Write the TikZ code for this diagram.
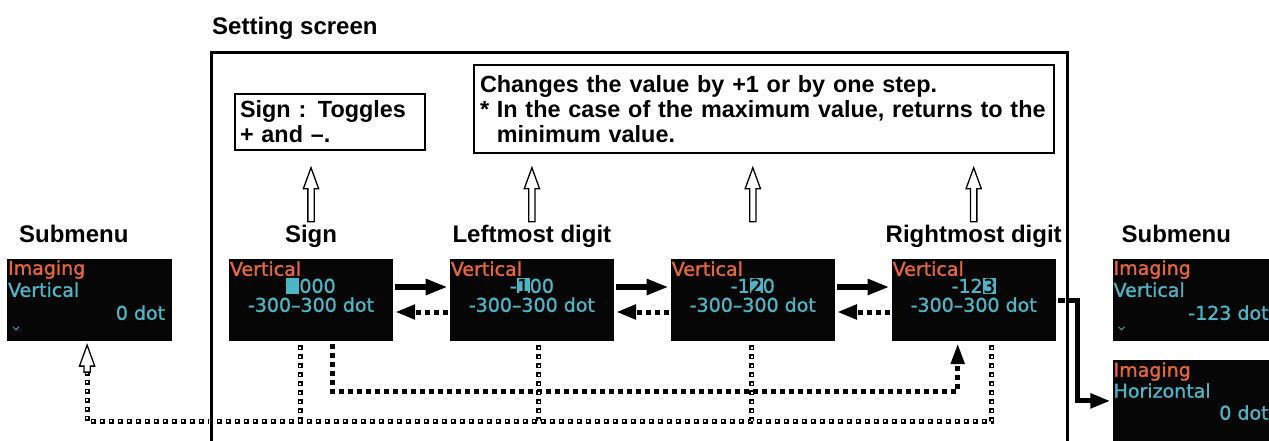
\documentclass[tikz,border=0pt]{standalone}
\usepackage{fontspec}
\setmainfont{Liberation Sans}
\newfontfamily\scrfam[FakeBold=1.2]{DejaVu Sans}
\usepackage{xcolor}
\usepackage{tikz}
\usetikzlibrary{arrows.meta, positioning, shapes.arrows}
\definecolor{scrorange}{HTML}{E8683C}
\definecolor{scrcyan}{HTML}{4DB6C6}
\definecolor{scrbg}{HTML}{060606}
\newcommand\lblfont{\fontsize{24}{25}\selectfont\bfseries}
\newcommand\notefont{\fontsize{23.4}{25}\selectfont\bfseries}
\newcommand\scrfont{\scrfam\fontsize{19}{22}\selectfont}
\newcommand\hlt[1]{{\setlength\fboxsep{0.5pt}\colorbox{scrcyan}{\textcolor{black}{#1}}}}
\tikzset{
  screen/.style={fill=scrbg, minimum width=164pt, minimum height=82pt, inner sep=0pt},
  scrhead/.style={font=\scrfont, text=scrorange, inner sep=0pt},
  scrtext/.style={font=\scrfont, text=scrcyan, inner sep=0pt},
  lbl/.style={font=\lblfont, inner sep=0pt},
  notebox/.style={draw, line width=2pt, font=\notefont, align=left, anchor=north west, inner xsep=5pt, inner ysep=3pt},
  hollowup/.style={single arrow, draw, line width=1.3pt, fill=white, rotate=90, inner sep=2.5pt, minimum height=54pt, minimum width=14pt, single arrow head extend=4.5pt, single arrow tip angle=40, anchor=tip},
  fwd/.style={line width=6pt, -{Triangle[length=22pt, width=15pt]}, shorten <=2pt, shorten >=2pt},
  back/.style={line width=5pt, dash pattern=on 5pt off 4pt, -{Triangle[length=20pt, width=14pt]}, shorten <=2pt, shorten >=2pt},
  jump/.style={line width=5pt, dash pattern=on 5pt off 4pt, -{Triangle[length=21pt, width=13pt]}},
  retline/.style={line width=5pt, dash pattern=on 5pt off 4pt, postaction={draw=white, line width=2pt, dash pattern=on 2pt off 7pt, dash phase=7.5pt}},
}
\begin{document}
\begin{tikzpicture}[x=1pt, y=1pt, node distance=56.5pt]
\useasboundingbox (0,0) rectangle (1269,440);
\clip (0,0) rectangle (1269,440);

  % screens
  \node[screen] (sgn) at (311,140) {};
  \node[screen, left=of sgn, minimum width=165pt] (sub1) {};
  \node[screen, right=of sgn] (lft) {};
  \node[screen, right=of lft] (mid) {};
  \node[screen, right=of mid] (rgt) {};
  \node[screen, right=of rgt, minimum width=170pt] (sub2) {};
  \node[screen, below=18.5pt of sub2, minimum width=170pt] (sub3) {};

  % submenu before
  \node[scrhead, anchor=base west] (sub1a) at ([xshift=1pt, yshift=-16pt]sub1.north west) {Imaging};
  \node[scrtext, anchor=base west] (sub1b) at ([xshift=1pt, yshift=-38pt]sub1.north west) {Vertical};
  \node[scrtext, anchor=base east] (sub1c) at ([xshift=-7pt, yshift=-61pt]sub1.north east) {0 dot};
  \draw[scrcyan, line width=0.8pt] ([xshift=6pt, yshift=-68pt]sub1.north west) -- ++(3,-3) -- ++(3,3);

  % setting screens
  \node[scrhead, anchor=base west] (sgna) at ([xshift=1pt, yshift=-17pt]sgn.north west) {Vertical};
  \node[scrtext, anchor=base] (sgnb) at ([yshift=-34pt]sgn.north) {\hlt{\phantom{0}}000};
  \node[scrtext, anchor=base] (sgnc) at ([yshift=-53pt]sgn.north) {-300–300 dot};
  \node[scrhead, anchor=base west] (lfta) at ([xshift=1pt, yshift=-17pt]lft.north west) {Vertical};
  \node[scrtext, anchor=base] (lftb) at ([yshift=-34pt]lft.north) {-\hlt{1}00};
  \node[scrtext, anchor=base] (lftc) at ([yshift=-53pt]lft.north) {-300–300 dot};
  \node[scrhead, anchor=base west] (mida) at ([xshift=1pt, yshift=-17pt]mid.north west) {Vertical};
  \node[scrtext, anchor=base] (midb) at ([yshift=-34pt]mid.north) {-1\hlt{2}0};
  \node[scrtext, anchor=base] (midc) at ([yshift=-53pt]mid.north) {-300–300 dot};
  \node[scrhead, anchor=base west] (rgta) at ([xshift=1pt, yshift=-17pt]rgt.north west) {Vertical};
  \node[scrtext, anchor=base] (rgtb) at ([yshift=-34pt]rgt.north) {-12\hlt{3}};
  \node[scrtext, anchor=base] (rgtc) at ([yshift=-53pt]rgt.north) {-300–300 dot};

  % submenus after
  \node[scrhead, anchor=base west] (sub2a) at ([xshift=1pt, yshift=-16pt]sub2.north west) {Imaging};
  \node[scrtext, anchor=base west] (sub2b) at ([xshift=1pt, yshift=-38pt]sub2.north west) {Vertical};
  \node[scrtext, anchor=base east] (sub2c) at ([xshift=-14pt, yshift=-61pt]sub2.north east) {-123 dot};
  \draw[scrcyan, line width=0.8pt] ([xshift=6pt, yshift=-68pt]sub2.north west) -- ++(3,-3) -- ++(3,3);
  \node[scrhead, anchor=base west] (sub3a) at ([xshift=1pt, yshift=-17pt]sub3.north west) {Imaging};
  \node[scrtext, anchor=base west] (sub3b) at ([xshift=1pt, yshift=-38pt]sub3.north west) {Horizontal};
  \node[scrtext, anchor=base east] (sub3c) at ([xshift=-14pt, yshift=-60pt]sub3.north east) {0 dot};

  % labels
  \node[lbl, anchor=base west] (setL) at (212,405) {Setting screen};
  \node[lbl, anchor=base west] (sub1L) at ([xshift=12pt, yshift=16pt]sub1.north west) {Submenu};
  \node[lbl, anchor=base west] (sub2L) at ([xshift=9pt, yshift=16pt]sub2.north west) {Submenu};
  \node[lbl, anchor=base] (sgnL) at ([yshift=16pt]sgn.north) {Sign};
  \node[lbl, anchor=base] (lftL) at ([yshift=16pt]lft.north) {Leftmost digit};
  \node[lbl, anchor=base] (rgtL) at ([yshift=16pt]rgt.north) {Rightmost digit};

  \node[notebox, text width=180pt, minimum height=56pt] (signbox) at (234,347) {Sign : Toggles\\+ and –.};
  \node[notebox, inner xsep=6pt, text width=568pt, minimum height=88pt] (stepbox) at (473,376)
    {Changes the value by +1 or by one step.\\{}* In the case of the maximum value, returns to the\\\hphantom{* }minimum value.};

  \node[hollowup] (up1) at ([yshift=93pt]sgn.north) {};
  \node[hollowup] (up2) at ([yshift=93pt]lft.north) {};
  \node[hollowup] (up3) at ([yshift=93pt]mid.north) {};
  \node[hollowup] (up4) at ([yshift=93pt]rgt.north) {};

  % moves between digits
  \draw[fwd] ([yshift=13pt]sgn.east) -- ([yshift=13pt]lft.west);
  \draw[fwd] ([yshift=13pt]lft.east) -- ([yshift=13pt]mid.west);
  \draw[fwd] ([yshift=13pt]mid.east) -- ([yshift=13pt]rgt.west);
  \draw[back] ([yshift=-12pt]lft.west) -- ([yshift=-12pt]sgn.east);
  \draw[back] ([yshift=-12pt]mid.west) -- ([yshift=-12pt]lft.east);
  \draw[back] ([yshift=-12pt]rgt.west) -- ([yshift=-12pt]mid.east);
  \draw[jump] ([xshift=21pt, yshift=-3pt]sgn.south) -- ++(0,-47) -| ([xshift=-16pt, yshift=-2pt]rgt.south);

  % back to submenu
  \node[hollowup, minimum height=27pt] (back1) at ([xshift=-2.5pt, yshift=-2pt]sub1.south) {};
  \draw[retline] ([xshift=18pt, yshift=-4pt]rgt.south) -- ++(0,-76) -| (back1.tail);
  \draw[retline] ([xshift=-11pt, yshift=-4pt]sgn.south) -- ++(0,-76);
  \draw[retline] ([xshift=7pt, yshift=-4pt]lft.south) -- ++(0,-76);
  \draw[retline] ([xshift=-1pt, yshift=-4pt]mid.south) -- ++(0,-76);

  % confirm
  \draw[fwd, line width=5pt, -{Triangle[length=20pt, width=14pt]}] (rgt.east) -- ++(22,0) |- (sub3.west);

  % frame
  \draw[line width=3pt, preaction={draw=white, line width=4.5pt}] (211,-10) |- (1067,387) -- (1067,-10);

\end{tikzpicture}
\end{document}
